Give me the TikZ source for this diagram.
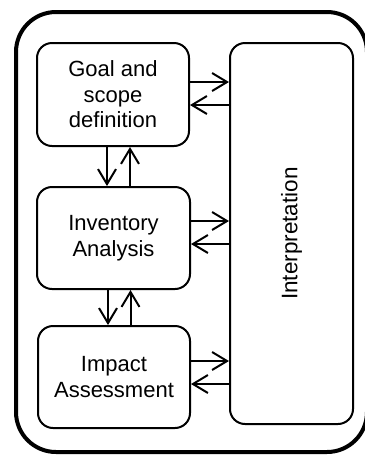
\documentclass[tikz,border=0pt]{standalone}
\usepackage{fontspec}
\setmainfont{Liberation Sans}
\usetikzlibrary{arrows.meta}
\begin{document}
\begin{tikzpicture}[x=1pt,y=-1pt,
  box/.style={draw, line width=2pt, rounded corners=15pt, align=center,
    font=\fontsize{22}{25.5}\selectfont, inner sep=0pt},
  arr/.style={line width=2pt, -{Straight Barb[length=15pt,width=18pt,line width=2pt]}}]
\useasboundingbox (0,0) rectangle (365,459);
\begin{scope}
\clip (0,0) rectangle (365,459);
\draw[line width=4pt, rounded corners=40pt] (16,12) rectangle (367,452);
\end{scope}
\node[box, minimum width=152pt, minimum height=103pt] (goal) at (113,94.5) {Goal and\\scope\\definition};
\node[box, minimum width=153pt, minimum height=102pt] (inv) at (113.5,238) {Inventory\\Analysis};
\node[box, minimum width=152pt, minimum height=102pt] (imp) at (114,377) {Impact\\Assessment};
\node[box, minimum width=123pt, minimum height=381pt] (interp) at (291.5,233.5) {};
\node[rotate=90, font=\fontsize{22.5}{25.5}\selectfont] (interptext) at (interp.center) {Interpretation};
% horizontal arrows
\draw[arr] ([yshift=12.5pt]goal.east) -- ([yshift=12.5pt]goal.east -| interp.west);
\draw[arr] ([yshift=-10.5pt]goal.east -| interp.west) -- ([yshift=-10.5pt]goal.east);
\draw[arr] ([yshift=17pt]inv.east) -- ([yshift=17pt]inv.east -| interp.west);
\draw[arr] ([yshift=-6pt]inv.east -| interp.west) -- ([yshift=-6pt]inv.east);
\draw[arr] ([yshift=16pt]imp.east) -- ([yshift=16pt]imp.east -| interp.west);
\draw[arr] ([yshift=-7pt]imp.east -| interp.west) -- ([yshift=-7pt]imp.east);
% vertical arrows
\draw[arr] ([xshift=-6pt]goal.south) -- ([xshift=-6pt]goal.south |- inv.north);
\draw[arr] ([xshift=17pt]goal.south |- inv.north) -- ([xshift=17pt]goal.south);
\draw[arr] ([xshift=-5.5pt]inv.south) -- ([xshift=-5.5pt]inv.south |- imp.north);
\draw[arr] ([xshift=17pt]inv.south |- imp.north) -- ([xshift=17pt]inv.south);
\end{tikzpicture}
\end{document}
